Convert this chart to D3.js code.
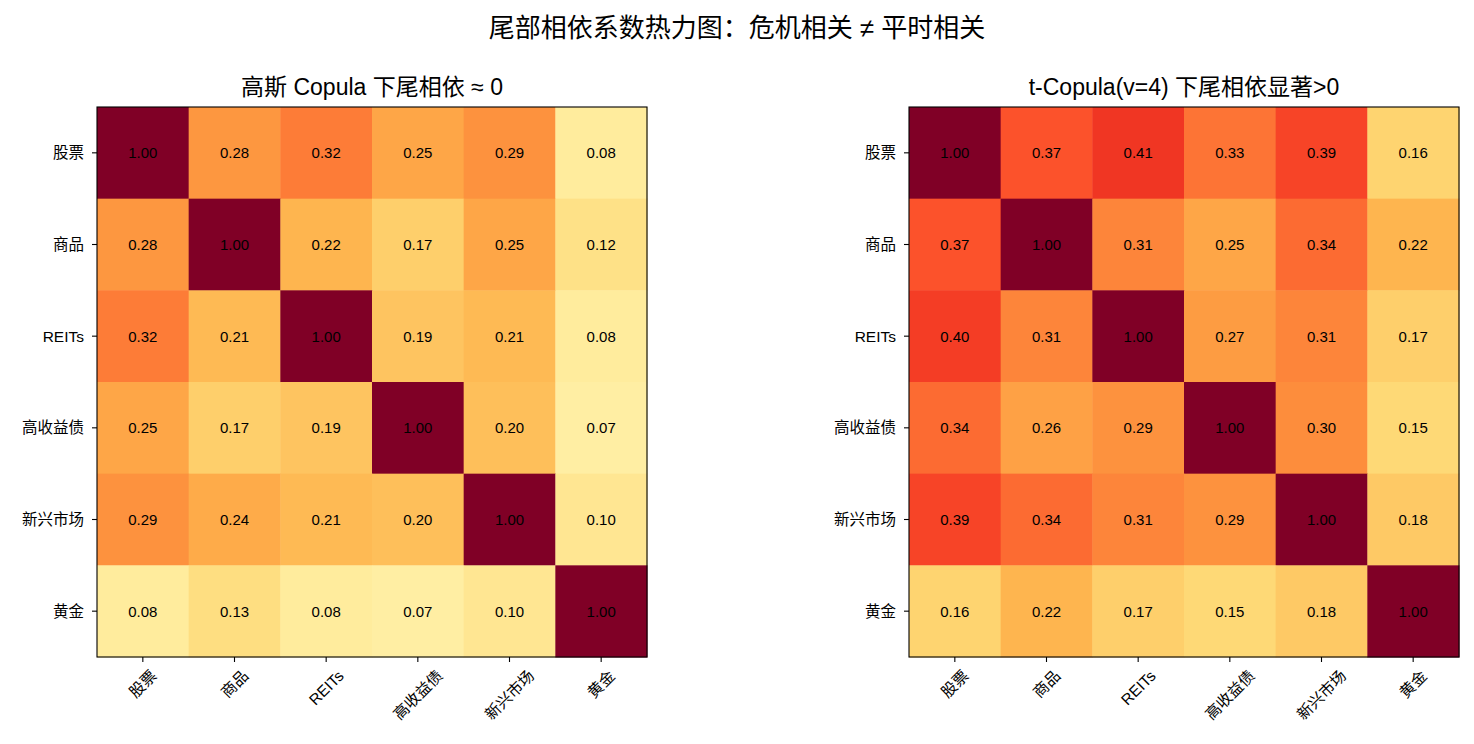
<!DOCTYPE html>
<html><head><meta charset="utf-8">
<script src="https://cdn.jsdelivr.net/npm/d3@7"></script>
<style>
body{margin:0;background:#fff;}
text{font-family:"Liberation Sans","Noto Sans CJK SC",sans-serif;fill:#000;}
</style></head>
<body><svg id="chart" width="1474" height="744"></svg>
<script>
const assets = ["股票","商品","REITs","高收益债","新兴市场","黄金"];
const gaussValues = [
  [1.00,0.28,0.32,0.25,0.29,0.08],
  [0.28,1.00,0.22,0.17,0.25,0.12],
  [0.32,0.21,1.00,0.19,0.21,0.08],
  [0.25,0.17,0.19,1.00,0.20,0.07],
  [0.29,0.24,0.21,0.20,1.00,0.10],
  [0.08,0.13,0.08,0.07,0.10,1.00]
];
const tValues = [
  [1.00,0.37,0.41,0.33,0.39,0.16],
  [0.37,1.00,0.31,0.25,0.34,0.22],
  [0.40,0.31,1.00,0.27,0.31,0.17],
  [0.34,0.26,0.29,1.00,0.30,0.15],
  [0.39,0.34,0.31,0.29,1.00,0.18],
  [0.16,0.22,0.17,0.15,0.18,1.00]
];
const suptitle = "尾部相依系数热力图：危机相关 ≠ 平时相关";
const panelTitles = ["高斯 Copula 下尾相依 ≈ 0","t-Copula(v=4) 下尾相依显著>0"];

const ylorrd = ["#ffffcc","#ffeda0","#fed976","#feb24c","#fd8d3c","#fc4e2a","#e31a1c","#bd0026","#800026"];
const vmin = 0, vmax = 0.6;
const color = d3.scaleLinear()
  .domain(ylorrd.map((_,i)=>vmin + (vmax-vmin)*i/(ylorrd.length-1)))
  .range(ylorrd).interpolate(d3.interpolateRgb).clamp(true);

const svg = d3.select("#chart");
svg.append("text").attr("x",737).attr("y",28).attr("text-anchor","middle")
  .attr("dominant-baseline","central").style("font-size","26px").text(suptitle);

const panelSize = 550, panelTop = 107;
const lefts = [97, 909];
[gaussValues, tValues].forEach((vals, p) => {
  const g = svg.append("g").attr("transform",`translate(${lefts[p]},${panelTop})`);
  const x = d3.scaleBand().domain(assets).range([0,panelSize]);
  const y = d3.scaleBand().domain(assets).range([0,panelSize]);
  const cells = [];
  vals.forEach((row,i)=>row.forEach((v,j)=>cells.push({r:assets[i],c:assets[j],v})));
  g.selectAll("rect.cell").data(cells).join("rect").attr("class","cell")
    .attr("x",d=>x(d.c)).attr("y",d=>y(d.r))
    .attr("width",x.bandwidth()+0.5).attr("height",y.bandwidth()+0.5)
    .attr("fill",d=>color(d.v));
  g.selectAll("text.ann").data(cells).join("text").attr("class","ann")
    .attr("x",d=>x(d.c)+x.bandwidth()/2).attr("y",d=>y(d.r)+y.bandwidth()/2)
    .attr("text-anchor","middle").attr("dominant-baseline","central")
    .style("font-size","15px").text(d=>d.v.toFixed(2));
  g.append("rect").attr("width",panelSize).attr("height",panelSize)
    .attr("fill","none").attr("stroke","#000").attr("stroke-width",1.1);
  const ya = g.append("g").call(d3.axisLeft(y).tickSize(5).tickPadding(8));
  ya.select(".domain").remove();
  ya.selectAll("line").attr("stroke","#000").attr("stroke-width",1.1);
  ya.selectAll("text").style("font-size","15.5px").attr("dy",null).attr("dominant-baseline","central");
  const xa = g.append("g").attr("transform",`translate(0,${panelSize})`)
    .call(d3.axisBottom(x).tickSize(5).tickPadding(5));
  xa.select(".domain").remove();
  xa.selectAll("line").attr("stroke","#000").attr("stroke-width",1.1);
  xa.selectAll("text").style("font-size","15.5px").attr("y",0).attr("dy",null)
    .attr("text-anchor","middle").attr("dominant-baseline","central")
    .each(function(){
      const b = this.getBBox();
      const H = (b.width + b.height) * Math.SQRT1_2;
      d3.select(this).attr("transform",`translate(0,${5+5+H/2}) rotate(-45)`);
    });
  g.append("text").attr("x",panelSize/2).attr("y",-20).attr("text-anchor","middle")
    .attr("dominant-baseline","central").style("font-size","23px").text(panelTitles[p]);
});
</script></body></html>
